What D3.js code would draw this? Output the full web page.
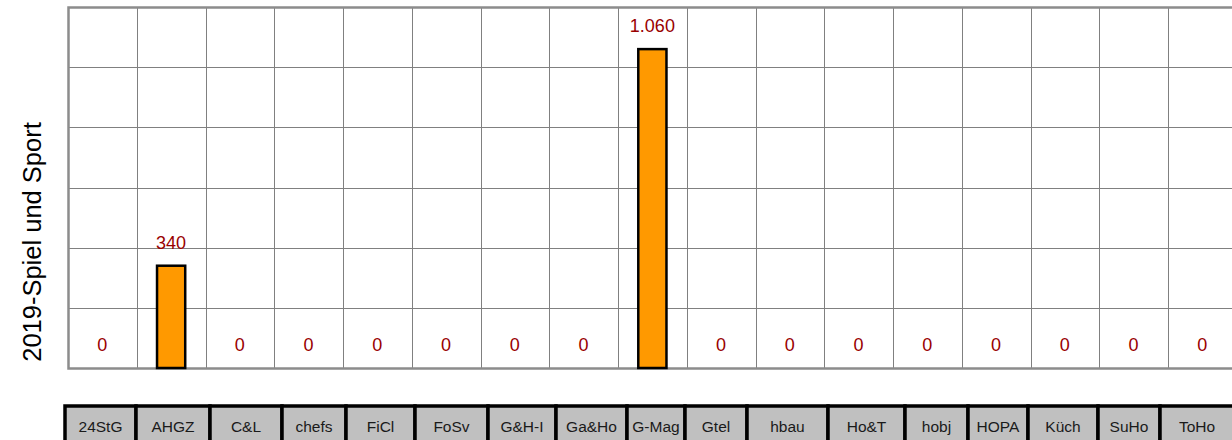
<!DOCTYPE html>
<html>
<head>
<meta charset="utf-8">
<script src="https://cdn.jsdelivr.net/npm/d3@7"></script>
<style>
  body { margin: 0; background: #fff; }
  svg { display: block; font-family: "Liberation Sans", Arial, sans-serif; }
</style>
</head>
<body>
<div class="chart"></div>
<script>
// data
var categories = ["24StG", "AHGZ", "C&L", "chefs", "FiCl", "FoSv", "G&H-I", "Ga&Ho", "G-Mag",
                  "Gtel", "hbau", "Ho&T", "hobj", "HOPA", "Küch", "SuHo", "ToHo"];
var values = [0, 340, 0, 0, 0, 0, 0, 0, 1060, 0, 0, 0, 0, 0, 0, 0, 0];
var yTicks = [0, 200, 400, 600, 800, 1000, 1200];
var seriesName = "2019-Spiel und Sport";

// layout
var W = 1232, H = 440;
var plot = {left: 68, top: 7, bottom: 368, band: 68.75};
// widths of the name cells underneath (the table is not aligned with the bands)
var cellWidths = [71, 74, 72, 64, 69, 73, 68, 71, 58, 62, 81, 77, 63, 60, 70, 62, 74];
var tableLeft = 65, tableTop = 406;

var fmt = d3.formatLocale({decimal: ",", thousands: ".", grouping: [3], currency: ["", " €"]}).format(",d");

var svg = d3.select(".chart").append("svg")
    .attr("width", W)
    .attr("height", H);

var x = d3.scaleBand()
    .domain(categories)
    .range([plot.left, plot.left + plot.band * categories.length])
    .padding(0);

var y = d3.scaleLinear()
    .domain([0, 1200])
    .range([plot.bottom, plot.top]);

// grid
var grid = svg.append("g").attr("class", "grid");
grid.selectAll(".hline")
  .data(yTicks)
  .enter().append("line")
    .attr("x1", plot.left)
    .attr("x2", x.range()[1])
    .attr("y1", function(d) { return Math.round(y(d)) + 0.5; })
    .attr("y2", function(d) { return Math.round(y(d)) + 0.5; })
    .attr("stroke", "#808080")
    .attr("stroke-width", 1);
grid.selectAll(".vline")
  .data(categories)
  .enter().append("line")
    .attr("x1", function(d) { return Math.round(x(d)) + 0.5; })
    .attr("x2", function(d) { return Math.round(x(d)) + 0.5; })
    .attr("y1", plot.top)
    .attr("y2", plot.bottom)
    .attr("stroke", "#808080")
    .attr("stroke-width", 1);

// frame (top, left, bottom a bit heavier)
svg.append("path")
    .attr("d", "M" + x.range()[1] + "," + (plot.top + 0.5) + "H" + (plot.left + 0.5) +
               "V" + (plot.bottom + 0.5) + "H" + x.range()[1])
    .attr("fill", "none")
    .attr("stroke", "#8c8c8c")
    .attr("stroke-width", 2.5);

// bars
var barW = x.bandwidth() * 0.41;
svg.append("g").selectAll("rect")
  .data(values.map(function(v, i) { return {name: categories[i], value: v}; }).filter(function(d) { return d.value > 0; }))
  .enter().append("rect")
    .attr("x", function(d) { return x(d.name) + (x.bandwidth() - barW) / 2; })
    .attr("y", function(d) { return y(d.value); })
    .attr("width", barW)
    .attr("height", function(d) { return y(0) - y(d.value); })
    .attr("fill", "#ff9900")
    .attr("stroke", "#000")
    .attr("stroke-width", 2.5);

// value labels
svg.append("g").selectAll("text")
  .data(values)
  .enter().append("text")
    .attr("x", function(d, i) { return x(categories[i]) + x.bandwidth() / 2; })
    .attr("y", function(d) { return y(d) - 17; })
    .attr("text-anchor", "middle")
    .attr("fill", "#990000")
    .style("font-size", "18px")
    .text(function(d) { return fmt(d); });

// series label
svg.append("text")
    .attr("transform", "translate(40.5,242) rotate(-90)")
    .attr("text-anchor", "middle")
    .style("font-size", "25.5px")
    .attr("fill", "#000")
    .text(seriesName);

// name table
var cum = [tableLeft];
cellWidths.forEach(function(w, i) { cum.push(cum[i] + w); });
var cells = svg.append("g").attr("class", "table").selectAll("g")
  .data(categories)
  .enter().append("g");
cells.append("rect")
    .attr("x", function(d, i) { return cum[i]; })
    .attr("y", tableTop)
    .attr("width", function(d, i) { return cellWidths[i]; })
    .attr("height", 40)
    .attr("fill", "#c0c0c0")
    .attr("stroke", "#000")
    .attr("stroke-width", 3.5);
cells.append("text")
    .attr("x", function(d, i) { return cum[i] + cellWidths[i] / 2; })
    .attr("y", tableTop + 26)
    .attr("text-anchor", "middle")
    .attr("fill", "#1a1a1a")
    .style("font-size", "15.5px")
    .text(function(d) { return d; });
</script>
</body>
</html>
